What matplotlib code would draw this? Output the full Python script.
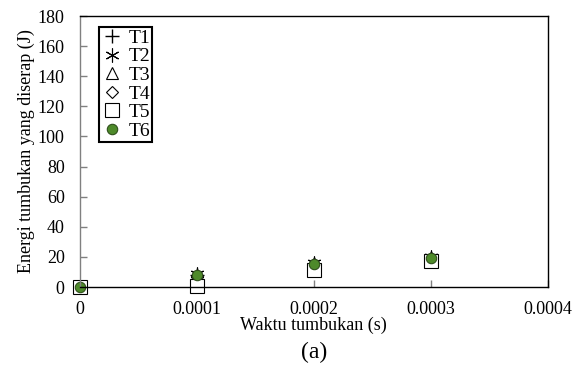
import matplotlib.pyplot as plt

# data
time_s = [0, 0.0001, 0.0002, 0.0003]
t1 = [0, 8, 15.5, 19.5]
t2 = [0, 8.5, 16, 20]
t3 = [0, 8, 15.5, 19.5]
t4 = [0, 7.5, 15, 19]
t5 = [0, 1, 11, 17]
t6 = [0, 8, 15, 19.5]

plt.rcParams['font.family'] = ['Liberation Serif', 'DejaVu Serif']

fig = plt.figure(figsize=(5.81, 3.74), dpi=100)
ax = fig.add_axes([0.1377, 0.2326, 0.805, 0.7246])

kw = dict(ls='none', clip_on=False)
ax.plot(time_s, t1, marker='+', ms=10, mew=1, color='black', label='T1', **kw)
ax.plot(time_s, t2, marker=(6, 2, 0), ms=10, mew=0.8, color='black', label='T2', **kw)
ax.plot(time_s, t3, marker='^', ms=9, mfc='white', mec='black', mew=0.8, label='T3', **kw)
ax.plot(time_s, t4, marker='D', ms=6.5, mfc='white', mec='black', mew=0.8, label='T4', **kw)
ax.plot(time_s, t5, marker='s', ms=10, mfc='white', mec='black', mew=0.8, label='T5', **kw)
ax.plot(time_s, t6, marker='o', ms=7.5, mfc='#4e8a2a', mec='#2f4f1c', mew=0.8, label='T6', **kw)

ax.set_xlim(0, 0.0004)
ax.set_ylim(0, 180)
ax.set_xticks([0, 0.0001, 0.0002, 0.0003, 0.0004])
ax.set_xticklabels(['0', '0.0001', '0.0002', '0.0003', '0.0004'])
ax.set_yticks(range(0, 181, 20))

ax.tick_params(axis='both', direction='in', length=5, width=1, colors='#808080', labelsize=13, labelcolor='black')
ax.tick_params(axis='x', pad=10)
ax.tick_params(axis='y', pad=11)

ax.spines['left'].set_color('#808080')
for s in ['top', 'right', 'bottom']:
    ax.spines[s].set_color('black')
for s in ax.spines.values():
    s.set_linewidth(1)

ax.set_xlabel('Waktu tumbukan (s)', fontsize=13, labelpad=-1)
ax.set_ylabel('Energi tumbukan yang diserap (J)', fontsize=13, labelpad=2)

leg = ax.legend(loc='upper left', bbox_to_anchor=(0.04, 0.96), fontsize=14,
                handlelength=1.1, handletextpad=0.3, labelspacing=0.05,
                borderpad=0.12, borderaxespad=0, fancybox=False, framealpha=1, edgecolor='black')
leg.get_frame().set_linewidth(1.5)

fig.text(0.54, 0.058, '(a)', ha='center', va='center', fontsize=17)

fig.savefig('out.png', dpi=100)
